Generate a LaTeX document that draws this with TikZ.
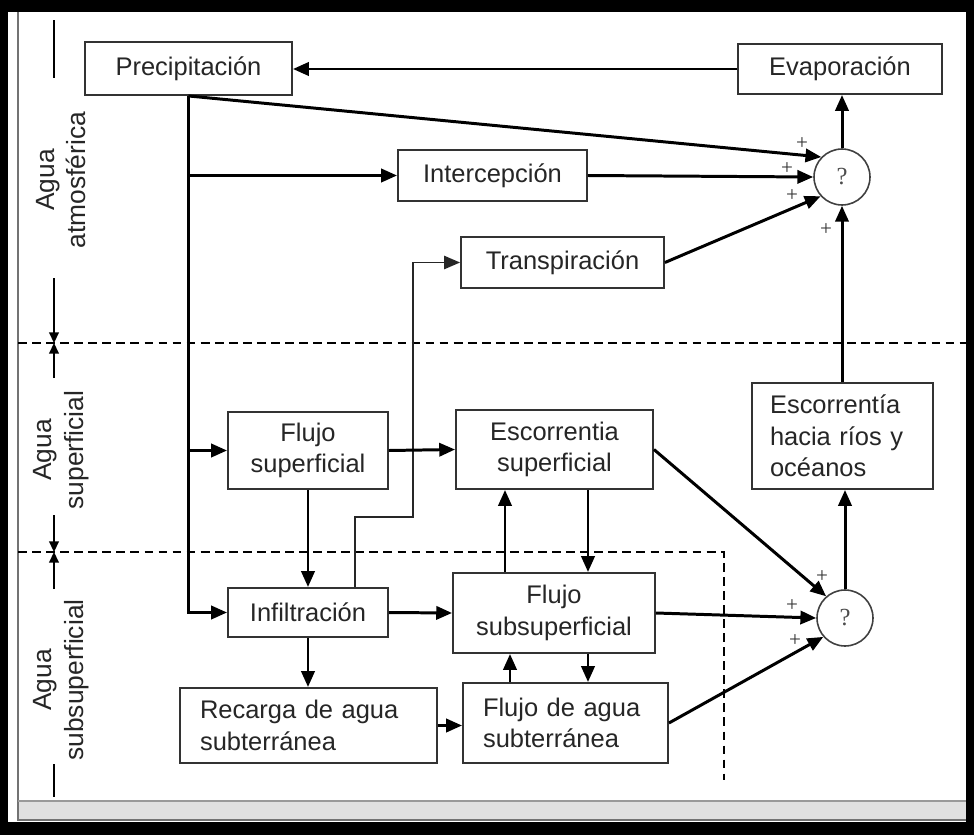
\documentclass[tikz,border=0pt]{standalone}
\usepackage{fontspec}
\setmainfont{Liberation Sans}
\newfontfamily\qfont{Liberation Serif}
\usetikzlibrary{arrows.meta}

\begin{document}
\begin{tikzpicture}[x=0.02cm,y=-0.02cm,
   box/.style={draw=black!80,line width=1.1pt,text=black!85,align=center,
      font=\fontsize{14.5}{18}\selectfont,inner sep=0pt},
   lbox/.style={box,align=left},
   sum/.style={draw=black!75,line width=0.9pt,circle,minimum size=1.12cm,
      inner sep=0pt,font=\fontsize{14}{14}\qfont,text=black!70},
   plus/.style={font=\fontsize{12}{12}\qfont,text=black!80,inner sep=0pt},
   flow/.style={line width=1.7pt,-{Triangle[length=9pt,width=7.5pt]}},
   thinflow/.style={line width=0.9pt,black!85,-{Triangle[length=9pt,width=7.5pt]}},
   zone/.style={line width=1.3pt,dash pattern=on 5pt off 3pt},
   side/.style={rotate=90,align=center,font=\fontsize{15}{18}\selectfont,text=black!85},
   dim/.style={line width=0.9pt,-{Triangle[length=6pt,width=5.5pt]}}]

\fill[black] (0,0) rectangle (974,835);
\fill[white] (8,12) rectangle (966,822);
\fill[black!12] (18,801) rectangle (966,820);
\draw[black!55,line width=0.6pt] (18,12) -- (18,820) -- (966,820);
\draw[black!40,line width=0.6pt] (18,801) -- (966,801);

\draw[zone] (18,343) -- (966,343);
\draw[zone] (18,552) -- (724,552) -- (724,780);

\node[side] (atm) at (61,180) {Agua\\atmosférica};
\node[side] (sup) at (61,450) {Agua\\superficial};
\node[side] (sub) at (61,680) {Agua\\subsuperficial};
\draw[line width=0.9pt] (54,20) -- (54,78);
\draw[dim] (54,278) -- (54,343);
\draw[dim] (54,378) -- (54,343);
\draw[dim] (54,515) -- (54,552);
\draw[dim] (54,589) -- (54,552);
\draw[line width=0.9pt] (54,764) -- (54,797);

\node[box,minimum width=4.14cm,minimum height=1.06cm] (prec) at (188.5,68.5) {Precipitación};
\node[box,minimum width=4.08cm,minimum height=1cm] (evap) at (840,69) {Evaporación};
\node[box,minimum width=3.78cm,minimum height=1.02cm] (inter) at (492.5,175.5) {Intercepción};
\node[box,minimum width=4.06cm,minimum height=1.02cm] (transp) at (562.5,262.5) {Transpiración};
\node[box,minimum width=3.2cm,minimum height=1.54cm] (flsup) at (308,450.5) {Flujo\\superficial};
\node[box,minimum width=3.94cm,minimum height=1.58cm] (escsup) at (554.5,449.5) {Escorrentia\\superficial};
\node[lbox,text width=2.9cm,inner xsep=0.36cm,minimum height=2.12cm] (escrio) at (842.5,436) {Escorrentía\\hacia ríos y\\océanos};
\node[box,minimum width=3.2cm,minimum height=0.98cm] (infil) at (308,612.5) {Infiltración};
\node[box,minimum width=4.04cm,minimum height=1.6cm] (flsub) at (554,613) {Flujo\\subsuperficial};
\node[lbox,text width=4.34cm,inner xsep=0.4cm,minimum height=1.5cm] (recarga) at (308.5,725.5) {Recarga de agua\\subterránea};
\node[lbox,text width=3.3cm,inner xsep=0.4cm,minimum height=1.6cm] (flsubt) at (565.5,723) {Flujo de agua\\subterránea};

\node[sum] (sum1) at (842,177) {?};
\node[sum] (sum2) at (845,618) {?};
\node[plus] (p1) at (802,144) {+};
\node[plus] (p2) at (787,169) {+};
\node[plus] (p3) at (792,196) {+};
\node[plus] (p4) at (826,230) {+};
\node[plus] (p5) at (822,577) {+};
\node[plus] (p6) at (792,606) {+};
\node[plus] (p7) at (795,641) {+};

\coordinate (t1) at (355,517);
\coordinate (t2) at (413,517);
\coordinate (xup) at (505,0);
\coordinate (xdn) at (588,0);
\coordinate (xup2) at (510,0);

\draw[flow] (evap.west) -- (evap.west -| prec.east);
\draw[flow] (sum1.north) -- (sum1.north |- evap.south);
\draw[flow] (prec.south) -- (sum1.136);
\draw[flow] (prec.south) |- (infil.west);
\draw[flow] (prec.south |- inter.west) -- (inter.west);
\draw[flow] (prec.south |- flsup.west) -- (flsup.west);
\draw[flow] (inter.east) -- (sum1.west);
\draw[flow] (transp.east) -- (sum1.222);
\draw[flow] (sum1.south |- escrio.north) -- (sum1.south);
\draw[thinflow] (t1 |- infil.north) -- (t1) -- (t2) |- (transp.west);
\draw[flow] (flsup.east) -- (escsup.west);
\draw[flow] (flsup.south) -- (infil.north);
\draw[flow] (escsup.east) -- (sum2.131);
\draw[flow] (xup |- flsub.north) -- (xup |- escsup.south);
\draw[flow] (xdn |- escsup.south) -- (xdn |- flsub.north);
\draw[flow] (xup2 |- flsubt.north) -- (xup2 |- flsub.south);
\draw[flow] (xdn |- flsub.south) -- (xdn |- flsubt.north);
\draw[flow] (infil.east) -- (flsub.west);
\draw[flow] (infil.south) -- (infil.south |- recarga.north);
\draw[flow] (recarga.east) -- (recarga.east -| flsubt.west);
\draw[flow] (flsub.east) -- (sum2.west);
\draw[flow] (flsubt.east) -- (sum2.221);
\draw[flow] (sum2.north) -- (sum2.north |- escrio.south);
\end{tikzpicture}
\end{document}
